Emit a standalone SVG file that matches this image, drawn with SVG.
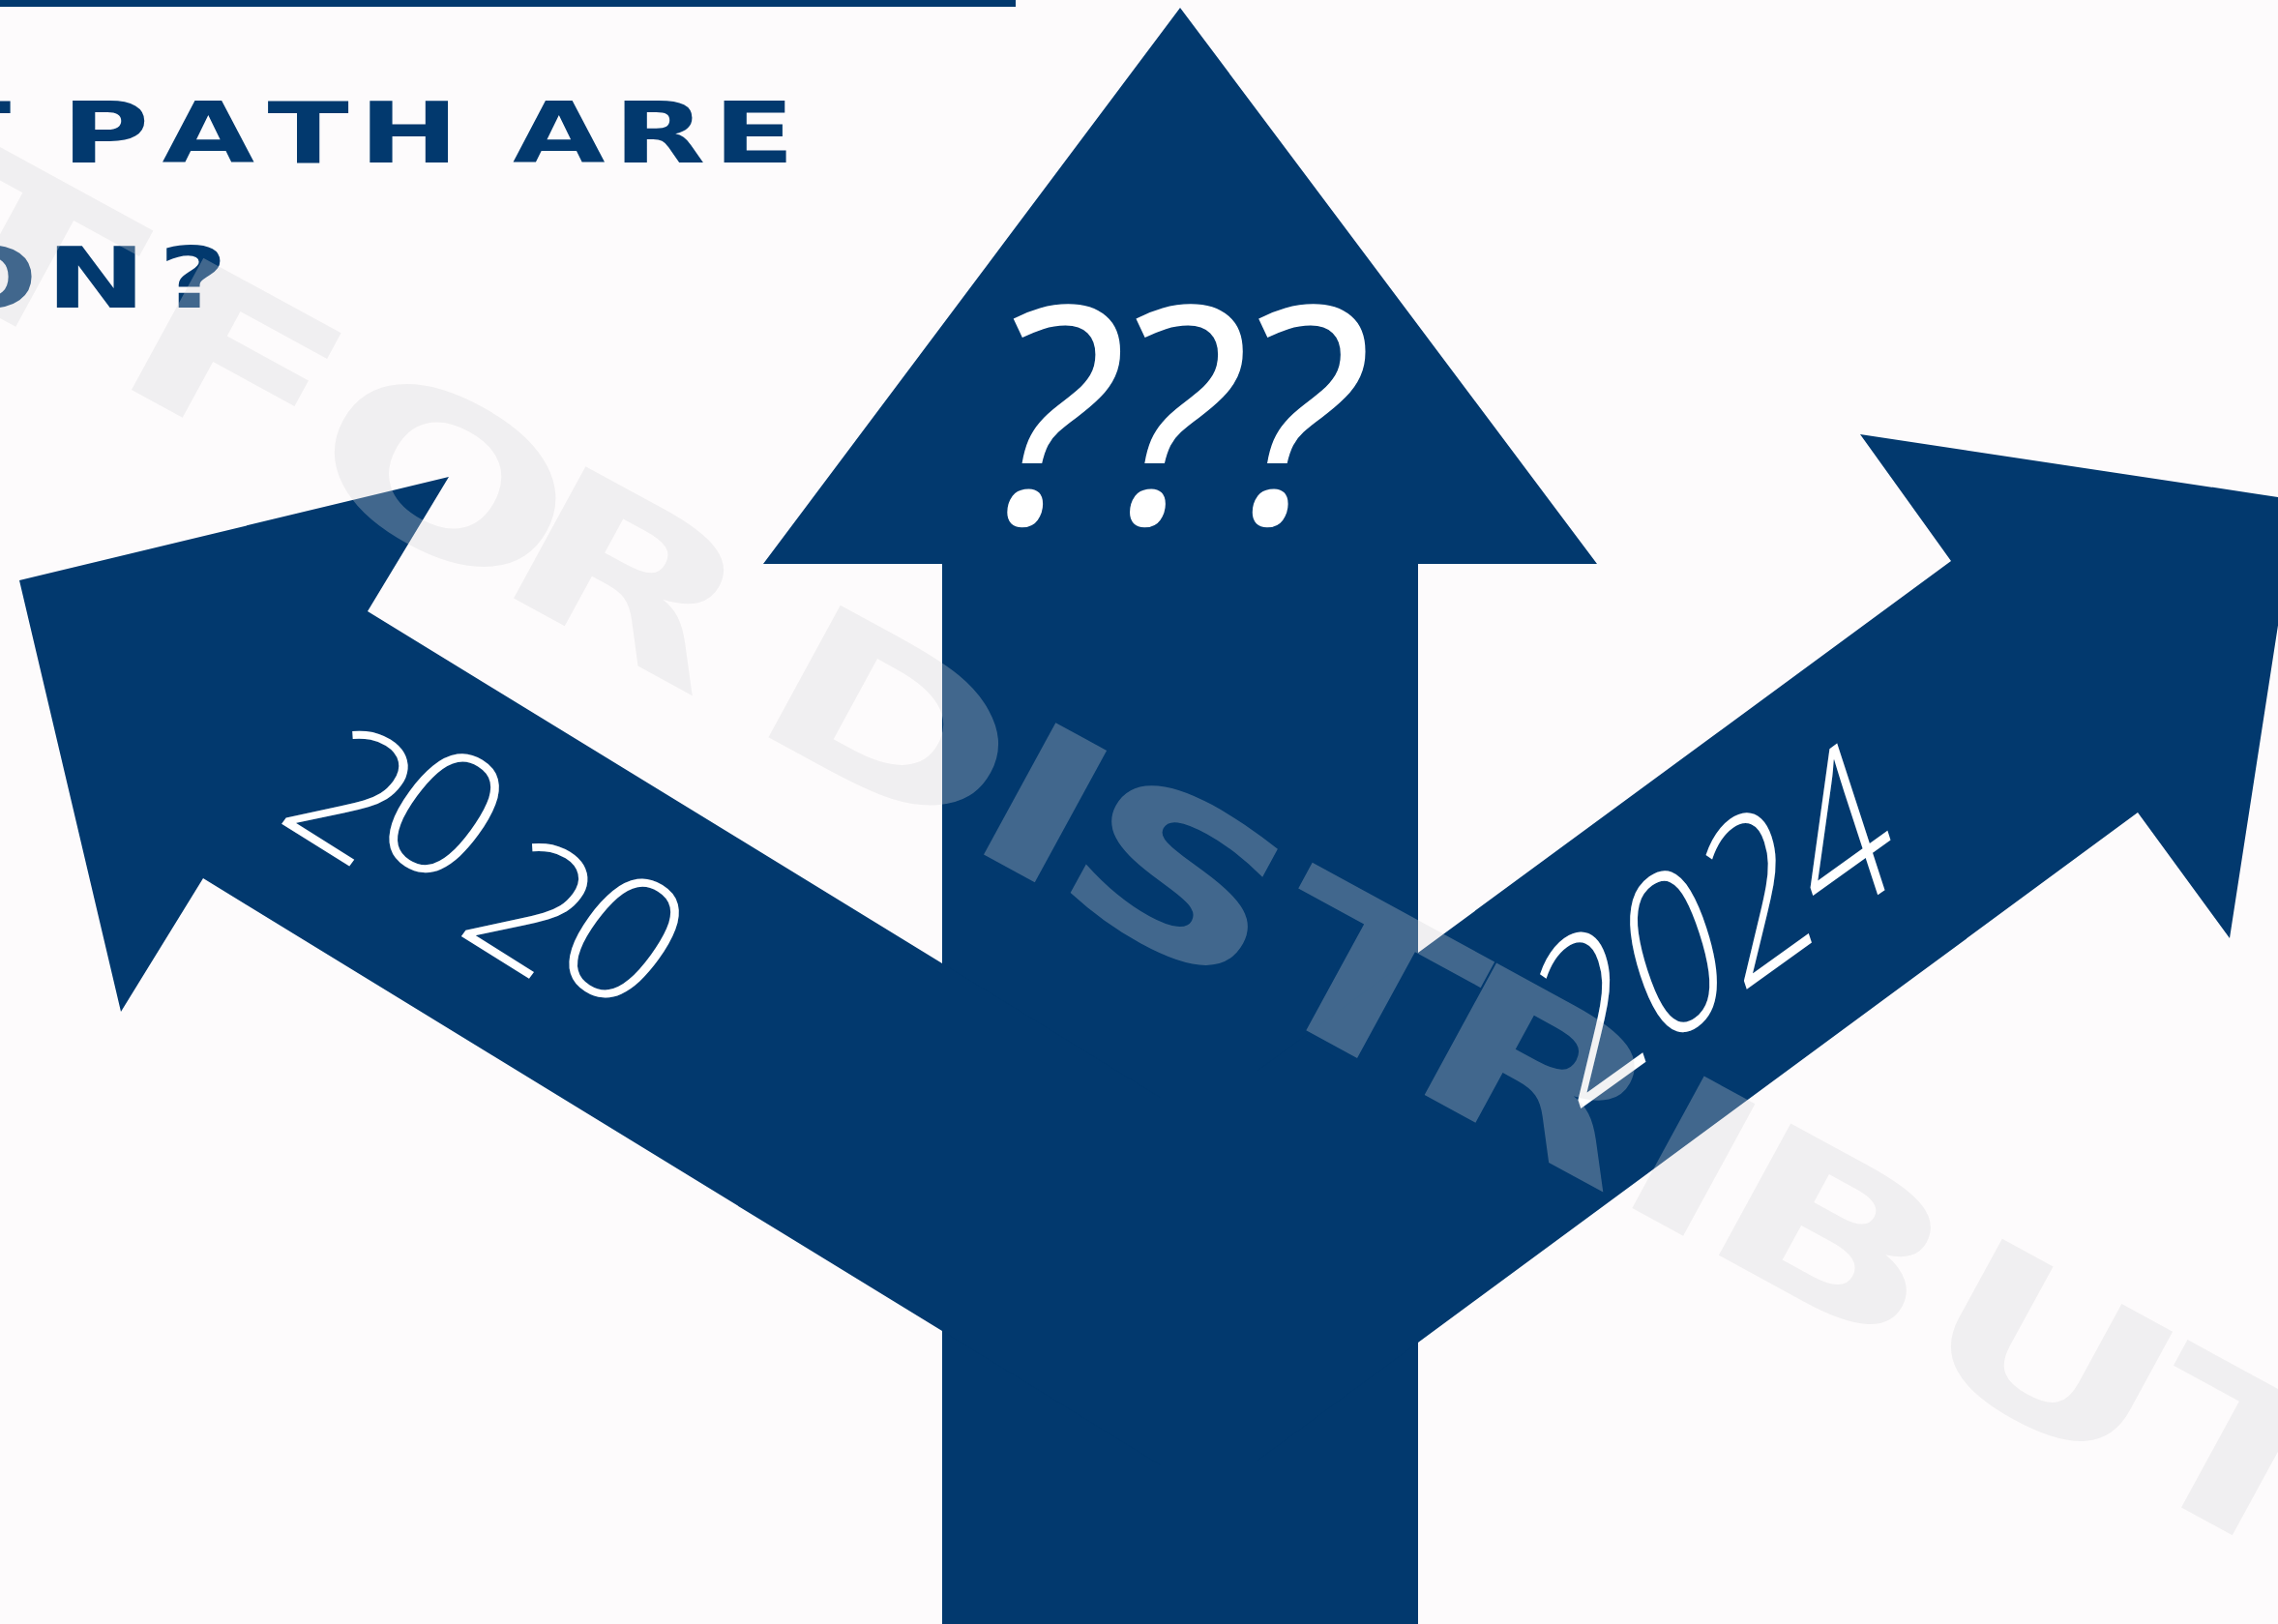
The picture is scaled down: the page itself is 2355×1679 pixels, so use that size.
<svg xmlns="http://www.w3.org/2000/svg" width="2355" height="1679" viewBox="0 0 2355 1679">
  <style>
    .navy { fill: #02396E; }
    .title { font-family: "DejaVu Sans", "Liberation Sans", sans-serif; font-weight: 700; font-size: 87px; fill: #02396E; }
    .year { font-family: "Open Sans", "Noto Sans", sans-serif; font-weight: 300; font-size: 185px; fill: #FFFFFF; }
    .qm { font-family: "Open Sans", "Noto Sans", sans-serif; font-style: italic; font-weight: 400; font-size: 313px; fill: #FFFFFF; letter-spacing: -7px; }
    .wm { font-family: "DejaVu Sans", "Liberation Sans", sans-serif; font-weight: 700; font-size: 213px; fill: #D4D4D6; fill-opacity: 0.3; }
  </style>
  <rect x="0" y="0" width="2355" height="1679" fill="#FDFBFC"/>
  <rect x="0" y="0" width="1050" height="7" class="navy"/>

  <g id="title">
    <text class="title" transform="scale(1.42,1)" x="-51.5 20 44.9 117.9 194.8 261.2 340 373.2 446.6 519.2" y="168">T PATH ARE</text>
    <text class="title" transform="scale(1.42,1)" x="-46.7 33.5 115.3" y="318.5">ON?</text>
  </g>

  <g id="connectors">
    <path id="arrow-center" class="navy" d="M1220,8 L1651,583 L1466,583 L1466,1679 L974,1679 L974,583 L789,583 Z"/>
    <path id="arrow-left" class="navy" d="M20,600 L464,493 L380,632 L974,996 L1200,1135 L1200,1515 L974,1376 L210,908 L125,1046 Z"/>
    <path id="arrow-right" class="navy" d="M1923,449 L2375,517 L2305,970 L2210,840 L1466,1388 L1300,1510 L1300,1107 L1466,985 L2017,580 Z"/>
  </g>

  <g id="label-questions">
    <text class="qm" x="1017" y="541">???</text>
  </g>
  <g id="label-2020">
    <text class="year" transform="matrix(0.848,0.530,-0.588,0.809,282.4,846.2)" x="0" y="0" dx="0 -22.4 22.4 -14.7" dy="0 -32.3 32.3 -21.3" letter-spacing="4">2020</text>
  </g>
  <g id="label-2024">
    <text class="year" transform="matrix(0.812,-0.584,0.371,1.141,1626,1152)" x="0" y="0" letter-spacing="0">2024</text>
  </g>

  <g id="watermark">
    <text class="wm" transform="translate(1281,1027.4) rotate(28.6) scale(1.5,1)" x="-1053 -900 -889 -742 -589 -450 -389 -220 -152 0 126 289 357 523 687" y="0">T FOR DISTRIBUT</text>
  </g>
</svg>
